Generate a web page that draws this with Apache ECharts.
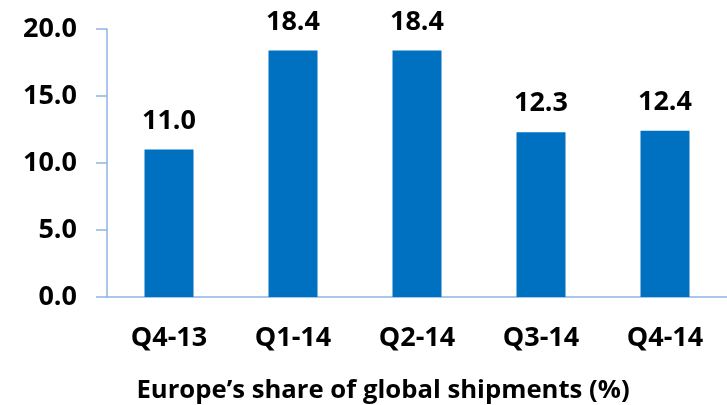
<!DOCTYPE html>
<html>
<head>
<meta charset="utf-8">
<script src="https://cdn.jsdelivr.net/npm/echarts@6/dist/echarts.min.js"></script>
<style>
  html, body { margin: 0; padding: 0; background: #fff; }
  #chart { width: 727px; height: 405px; }
</style>
</head>
<body>
<div id="chart"></div>
<script>
// quarters and Europe's share (%)
const quarters = ['Q4-13', 'Q1-14', 'Q2-14', 'Q3-14', 'Q4-14'];
const shareValues = [11.0, 18.4, 18.4, 12.3, 12.4];
const axisTitle = 'Europe\u2019s share of global shipments (%)';

const font = '"Open Sans", sans-serif';
const chart = echarts.init(document.getElementById('chart'));

chart.setOption({
  animation: false,
  grid: {
    left: 107,
    right: 0,
    top: 29,
    bottom: 108,
    containLabel: false,
    outerBoundsMode: 'none'
  },
  xAxis: {
    type: 'category',
    data: quarters,
    name: axisTitle,
    nameLocation: 'center',
    nameGap: 81,
    nameTextStyle: {
      fontFamily: font,
      fontWeight: 'bold',
      fontSize: 25.7,
      color: '#000',
      padding: [0, 68, 0, 0]   // title sits left of plot centre
    },
    axisLine: {lineStyle: {color: '#8EB4E3', width: 1.5}},
    axisTick: {show: false},
    axisLabel: {
      fontFamily: font,
      fontWeight: 'bold',
      fontSize: 27,
      color: '#000',
      margin: 28
    }
  },
  yAxis: {
    type: 'value',
    min: 0,
    max: 20,
    interval: 5,
    splitLine: {show: false},
    axisLine: {show: true, lineStyle: {color: '#8EB4E3', width: 1.5}},
    axisTick: {show: true, length: 11, lineStyle: {color: '#8EB4E3', width: 1.5}},
    axisLabel: {
      fontFamily: font,
      fontWeight: 'bold',
      fontSize: 27,
      color: '#000',
      margin: 30,
      formatter: (v) => v.toFixed(1)
    }
  },
  series: [{
    type: 'bar',
    data: shareValues,
    barWidth: 49,
    itemStyle: {color: '#0070C0'},
    label: {
      show: true,
      position: 'top',
      distance: 15,
      fontFamily: font,
      fontWeight: 'bold',
      fontSize: 27,
      color: '#000',
      formatter: (p) => p.value.toFixed(1)
    }
  }]
});
</script>
</body>
</html>
